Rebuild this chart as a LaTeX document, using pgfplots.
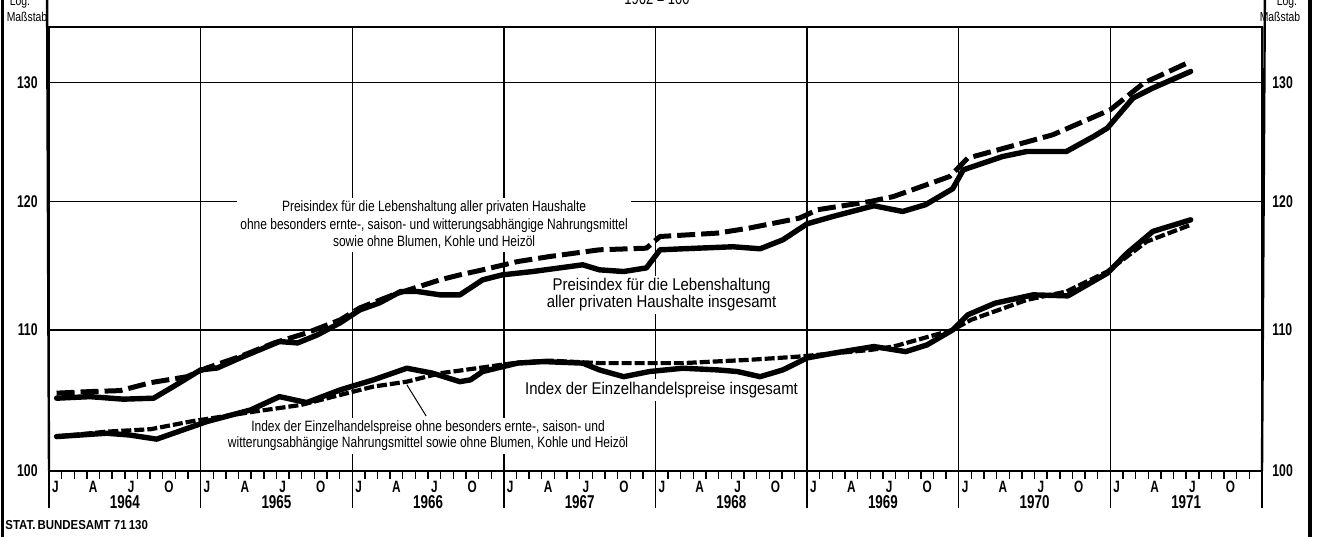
\documentclass[border=0pt]{standalone}
\usepackage{fontspec}
\setmainfont{Liberation Sans}[FakeStretch=0.8]
\newfontfamily\condB{Liberation Sans}[FakeStretch=0.88]
\newfontfamily\condC{Liberation Sans}[FakeStretch=0.72]
\usepackage{pgfplots}
\pgfplotsset{compat=1.18}
\tikzset{
  mlab/.style={anchor=base, yshift=-10.6pt, inner sep=0pt, font=\condC\bfseries\fontsize{8.2}{8.2}\selectfont},
  yrlab/.style={anchor=base, yshift=-18.7pt, inner sep=0pt, font=\condC\bfseries\fontsize{9.3}{9.3}\selectfont},
  ylabL/.style={anchor=east, xshift=-5.5pt, inner sep=0pt, font=\condC\bfseries\fontsize{8.5}{8.5}\selectfont},
  ylabR/.style={anchor=west, xshift=5pt, inner sep=0pt, font=\condC\bfseries\fontsize{8.5}{8.5}\selectfont},
}
\begin{document}
\begin{tikzpicture}
\useasboundingbox (-24.5pt,-32.5pt) rectangle (634.5pt,235.5pt);
\draw[line width=1.6pt] (-23.3pt,-40pt) -- (-23.3pt,240pt);
\draw[line width=1.6pt] (630.5pt,-40pt) -- (630.5pt,240pt);
\begin{axis}[
  at={(0pt,0pt)}, anchor=south west,
  scale only axis, width=606.5pt, height=222pt,
  xmin=0, xmax=8, ymin=100, ymax=135, ymode=log,
  xtick={0,1,2,3,4,5,6,7,8}, xticklabels=\empty,
  xticklabel style={text opacity=0},
  minor x tick num=11,
  xtick pos=bottom, tick align=outside,
  major tick length=18.5pt, minor tick length=4pt,
  xtick style={black, line width=0.7pt},
  minor x tick style={black, line width=0.7pt},
  ytick={100,110,120,130}, yticklabels=\empty, ytick style={draw=none},
  yticklabel style={text opacity=0},
  xmajorgrids, ymajorgrids,
  grid style={black, line width=0.7pt},
  axis line style={black, line width=0.8pt},
  clip=false,
]
% thicker left and bottom axis lines, 100 ticks
\draw[line width=1.3pt] (axis cs:0,100) -- (axis cs:8,100);
\draw[line width=1.1pt] (axis cs:0,100) -- (axis cs:0,135);
\draw[line width=1.2pt] (axis cs:0,100) -- ++(-3pt,0);
\draw[line width=1.2pt] (axis cs:8,100) -- ++(4.5pt,0);

% month labels
\pgfplotsinvokeforeach{0,1,2,3,4,5,6,7}{
  \node[mlab] at (axis cs:#1.0417,100) {J};
  \node[mlab] at (axis cs:#1.2917,100) {A};
  \node[mlab] at (axis cs:#1.5417,100) {J};
  \node[mlab] at (axis cs:#1.7917,100) {O};
}
% year labels
\node[yrlab] at (axis cs:0.5,100) {1964};
\node[yrlab] at (axis cs:1.5,100) {1965};
\node[yrlab] at (axis cs:2.5,100) {1966};
\node[yrlab] at (axis cs:3.5,100) {1967};
\node[yrlab] at (axis cs:4.5,100) {1968};
\node[yrlab] at (axis cs:5.5,100) {1969};
\node[yrlab] at (axis cs:6.5,100) {1970};
\node[yrlab] at (axis cs:7.5,100) {1971};
% y labels on both sides
\pgfplotsinvokeforeach{100,110,120,130}{
  \node[ylabL] at (axis cs:0,#1) {#1};
  \node[ylabR] at (axis cs:8,#1) {#1};
}

% annotations
\node[fill=white, inner sep=1.5pt, align=center, font=\fontsize{7.5}{8.8}\selectfont]
  at (axis cs:2.54,118.1) {Preisindex für die Lebenshaltung aller privaten Haushalte\\ohne besonders ernte-, saison- und witterungsabhängige Nahrungsmittel\\sowie ohne Blumen, Kohle und Heizöl};
\node[fill=white, inner sep=1.5pt, align=center, font=\condB\fontsize{8.5}{8.4}\selectfont]
  at (axis cs:4.04,112.64) {Preisindex für die Lebenshaltung\\aller privaten Haushalte insgesamt};
\node[fill=white, inner sep=1.5pt, font=\condB\fontsize{8.5}{8.5}\selectfont]
  at (axis cs:4.04,105.63) {Index der Einzelhandelspreise insgesamt};
\node[fill=white, inner sep=1.5pt, align=center, font=\fontsize{7.5}{8.2}\selectfont]
  at (axis cs:2.50,102.4) {Index der Einzelhandelspreise ohne besonders ernte-, saison- und\\witterungsabhängige Nahrungsmittel sowie ohne Blumen, Kohle und Heizöl};
\draw[line width=0.5pt] (axis cs:2.36,106.0) -- (axis cs:2.487,103.79);

% header texts
\node[anchor=base, font=\condC\fontsize{9}{9}\selectfont] at (axis cs:4.01,135) [yshift=11pt] {1962 = 100};
\node[font=\fontsize{6.5}{6.5}\selectfont] at (axis cs:0,135) [xshift=-14.5pt, yshift=12.5pt] {Log.};
\node[font=\fontsize{6.5}{6.5}\selectfont] at (axis cs:0,135) [xshift=-11pt, yshift=5.2pt] {Maßstab};
\node[font=\fontsize{6.5}{6.5}\selectfont] at (axis cs:8,135) [xshift=12.5pt, yshift=12.5pt] {Log.};
\node[font=\fontsize{6.5}{6.5}\selectfont] at (axis cs:8,135) [xshift=9pt, yshift=5.2pt] {Maßstab};
\node[anchor=base west, inner sep=0pt, font=\condB\bfseries\fontsize{6.5}{6.5}\selectfont] at (axis cs:0,100) [xshift=-22pt, yshift=-29.5pt] {STAT.\,BUNDESAMT 71\,130};

% A: Preisindex Lebenshaltung insgesamt (solid); x = years since Jan 1964
\addplot[black, line width=2.7pt, line join=round, line cap=round] coordinates {
(0.05,105.04) (0.27,105.15) (0.49,104.97) (0.69,105.04) (0.82,105.87)
(1.00,107.07) (1.11,107.21) (1.26,107.94) (1.52,109.14) (1.64,109.04)
(1.77,109.63) (1.92,110.53) (2.05,111.50) (2.18,112.03) (2.32,112.89)
(2.43,112.89) (2.58,112.64) (2.71,112.64) (2.86,113.79) (2.99,114.17)
(3.19,114.43) (3.52,114.95) (3.63,114.56) (3.79,114.43) (3.94,114.71)
(4.03,116.12) (4.18,116.20) (4.51,116.36) (4.69,116.20) (4.84,116.91)
(5.00,118.18) (5.17,118.77) (5.44,119.63) (5.63,119.17) (5.78,119.71)
(5.96,121.01) (6.03,122.57) (6.29,123.68) (6.45,124.10) (6.71,124.10)
(6.89,125.37) (6.98,126.08) (7.15,128.67) (7.28,129.54) (7.53,131.00)
};
% B: Preisindex ohne ... (long dashes)
\addplot[black, line width=2.5pt, line join=round, dash pattern=on 9pt off 3pt] coordinates {
(0.05,105.40) (0.27,105.51) (0.47,105.58) (0.67,106.15) (0.91,106.58)
(1.04,107.21) (1.26,108.04) (1.48,109.02) (1.70,109.78) (1.92,110.75)
(2.05,111.65) (2.27,112.64) (2.58,113.79) (2.71,114.17) (2.86,114.56)
(3.09,115.20) (3.30,115.59) (3.63,116.12) (3.94,116.25) (4.03,117.17)
(4.41,117.44) (4.62,117.84) (4.95,118.64) (5.07,119.31) (5.42,119.98)
(5.57,120.38) (5.94,122.02) (6.06,123.55) (6.34,124.52) (6.62,125.51)
(7.00,127.65) (7.22,129.98) (7.53,131.89)
};
% C: Einzelhandelspreise insgesamt (solid)
\addplot[black, line width=2.7pt, line join=round, line cap=round] coordinates {
(0.05,102.35) (0.38,102.58) (0.53,102.46) (0.71,102.17) (1.04,103.39)
(1.33,104.21) (1.52,105.15) (1.70,104.73) (1.92,105.63) (2.14,106.35)
(2.36,107.19) (2.53,106.83) (2.71,106.22) (2.78,106.35) (2.86,106.95)
(3.09,107.56) (3.26,107.67) (3.52,107.56) (3.63,107.07) (3.79,106.58)
(3.96,106.95) (4.18,107.19) (4.41,107.07) (4.54,106.95) (4.69,106.58)
(4.84,107.07) (5.00,107.94) (5.17,108.28) (5.44,108.77) (5.65,108.40)
(5.79,108.89) (5.96,110.00) (6.06,111.13) (6.24,112.01) (6.49,112.64)
(6.72,112.56) (6.98,114.30) (7.11,115.86) (7.28,117.57) (7.53,118.50)
};
% D: Einzelhandelspreise ohne ... (short dashes)
\addplot[black, line width=2.1pt, line join=round, dash pattern=on 5pt off 1.5pt] coordinates {
(0.05,102.35) (0.38,102.69) (0.67,102.86) (0.93,103.39) (1.35,104.09)
(1.66,104.56) (1.92,105.27) (2.14,105.87) (2.36,106.22) (2.58,106.83)
(2.71,107.02) (3.09,107.60) (3.30,107.74) (3.63,107.56) (4.18,107.56)
(4.62,107.80) (4.95,108.04) (5.42,108.53) (5.57,108.77) (5.96,110.00)
(6.08,110.75) (6.45,112.26) (6.71,112.89) (6.98,114.43) (7.24,116.77)
(7.53,118.10)
};
\end{axis}
\end{tikzpicture}
\end{document}
